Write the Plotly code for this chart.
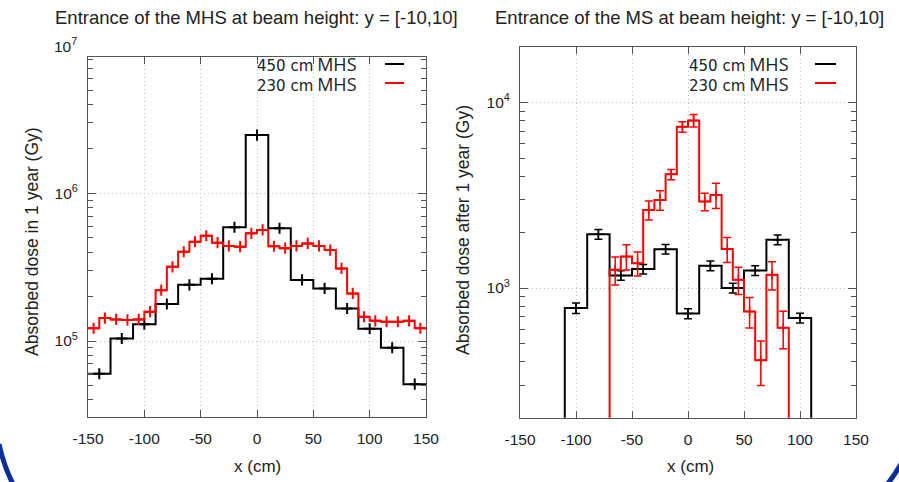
import math
import plotly.graph_objects as go

# ---------------- data ----------------
# Left panel: entrance of the MHS
mhs450_x = [-140, -120, -100, -80, -60, -40, -20, 0, 20, 40, 60, 80, 100, 120, 140]
mhs450_y = [6.0e4, 1.04e5, 1.30e5, 1.78e5, 2.40e5, 2.64e5, 5.89e5, 2.48e6,
            5.80e5, 2.59e5, 2.27e5, 1.66e5, 1.21e5, 9.0e4, 5.1e4]
mhs450_w = 20

mhs230_x = [-145, -135, -125, -115, -105, -95, -85, -75, -65, -55, -45, -35, -25, -15, -5,
            5, 15, 25, 35, 45, 55, 65, 75, 85, 95, 105, 115, 125, 135, 145]
mhs230_y = [1.22e5, 1.43e5, 1.40e5, 1.39e5, 1.40e5, 1.58e5, 2.21e5, 3.18e5, 4.02e5, 4.70e5,
            5.16e5, 4.63e5, 4.40e5, 4.35e5, 5.36e5, 5.65e5, 4.38e5, 4.25e5, 4.40e5, 4.58e5,
            4.40e5, 4.13e5, 3.10e5, 2.10e5, 1.46e5, 1.37e5, 1.35e5, 1.35e5, 1.37e5, 1.22e5]
mhs230_w = 10

# Right panel: entrance of the MS
ms450_x = [-100, -80, -60, -40, -20, 0, 20, 40, 60, 80, 100]
ms450_y = [780, 1950, 1170, 1265, 1620, 728, 1318, 1000, 1244, 1820, 690]
ms450_err = [50, 120, 70, 75, 95, 45, 80, 60, 75, 110, 42]
ms450_w = 20

ms230_x = [-65, -55, -45, -35, -25, -15, -5, 5, 15, 25, 35, 45, 55, 65, 75, 85]
ms230_y = [1254, 1479, 1362, 2636, 2985, 4100, 7400, 8000, 2927, 3177, 1622, 1108, 748, 408, 1180, 610]
ms230_err = [215, 230, 200, 310, 360, 260, 480, 620, 320, 490, 250, 185, 140, 110, 205, 140]
ms230_w = 10

x_ticks = [-150, -100, -50, 0, 50, 100, 150]
x_tick_labels = ["-150", "-100", "-50", "0", "50", "100", "150"]
left_major = [1e5, 1e6]
right_major = [1e3, 1e4]
right_floor = 1.0  # step drops to the floor at the edges

titles = ["Entrance of the MHS at beam height: y = [-10,10]",
          "Entrance of the MS at beam height: y = [-10,10]"]
ylabels = ["Absorbed dose in 1 year (Gy)", "Absorbed dose after 1 year (Gy)"]
legend_names = ["450 cm", "230 cm"]
legend_suffix = "MHS"

BLACK = "#000000"
RED = "#ff0000"
W, H = 899, 482


def steps(centers, vals, width, floor=None):
    xs = [c - width / 2 for c in centers] + [centers[-1] + width / 2]
    ys = list(vals) + [vals[-1]]
    if floor is not None:
        xs = [xs[0]] + xs + [xs[-1]]
        ys = [floor] + ys + [floor]
    return xs, ys


def px(x):
    return x / W


def py(y):
    return 1 - y / H


fig = go.Figure()

# left panel
for cx, cy, w, col in [(mhs450_x, mhs450_y, mhs450_w, BLACK), (mhs230_x, mhs230_y, mhs230_w, RED)]:
    sx, sy = steps(cx, cy, w)
    fig.add_trace(go.Scatter(x=sx, y=sy, mode="lines", line=dict(color=col, width=2, shape="hv"),
                             xaxis="x", yaxis="y", showlegend=False, hoverinfo="skip"))
    fig.add_trace(go.Scatter(x=cx, y=cy, mode="markers",
                             marker=dict(symbol="cross-thin", size=8, color=col,
                                         line=dict(color=col, width=2)),
                             xaxis="x", yaxis="y", showlegend=False))

# right panel
for cx, cy, ce, w, col in [(ms450_x, ms450_y, ms450_err, ms450_w, BLACK),
                           (ms230_x, ms230_y, ms230_err, ms230_w, RED)]:
    sx, sy = steps(cx, cy, w, floor=right_floor)
    fig.add_trace(go.Scatter(x=sx, y=sy, mode="lines", line=dict(color=col, width=2, shape="hv"),
                             xaxis="x2", yaxis="y2", showlegend=False, hoverinfo="skip"))
    fig.add_trace(go.Scatter(x=cx, y=cy, mode="markers",
                             marker=dict(symbol="cross-thin", size=7, color=col,
                                         line=dict(color=col, width=1.5)),
                             error_y=dict(type="data", array=ce, color=col, thickness=1.5, width=4),
                             xaxis="x2", yaxis="y2", showlegend=False))

tickfont = dict(family="Liberation Sans", size=15.5, color="#222222")
FRAME = "#555555"
GRID = "#bdbdbd"
GRIDDASH = "1px,3px"

xcommon = dict(range=[-150, 150], tickvals=x_ticks, ticktext=x_tick_labels,
               ticks="inside", ticklen=7, tickcolor=FRAME,
               showline=True, linecolor=FRAME, linewidth=1, mirror="allticks",
               showgrid=True, gridcolor=GRID, griddash=GRIDDASH, gridwidth=1,
               zeroline=False, tickfont=tickfont, ticklabelstandoff=8, automargin=False)


def minor_vals(lo_dec, hi_dec):
    return [m * 10 ** d for d in range(lo_dec, hi_dec + 1) for m in range(2, 10)]


def ycommon(rng, major, minor):
    return dict(type="log", range=rng, tickvals=major,
                ticktext=["10<sup>%d</sup>" % round(math.log10(v)) for v in major],
                ticks="inside", ticklen=8, tickcolor=FRAME,
                minor=dict(tickvals=minor, ticks="inside", ticklen=5, tickcolor=FRAME, showgrid=False),
                showline=True, linecolor=FRAME, linewidth=1, mirror="allticks",
                showgrid=True, gridcolor=GRID, griddash=GRIDDASH, gridwidth=1,
                zeroline=False, tickfont=tickfont, ticklabelstandoff=6, automargin=False)


fig.update_layout(
    width=W, height=H, margin=dict(l=0, r=0, t=0, b=0, autoexpand=False),
    paper_bgcolor="white", plot_bgcolor="white", showlegend=False,
    xaxis=dict(domain=[px(88), px(426)], anchor="y", **xcommon),
    yaxis=dict(domain=[py(416.7), py(57)], anchor="x",
               **ycommon([4.4875, 6.9228], left_major, minor_vals(4, 6))),
    xaxis2=dict(domain=[px(520), px(856)], anchor="y2", **xcommon),
    yaxis2=dict(domain=[py(417.7), py(46.7)], anchor="x2",
                **ycommon([2.301, 4.301], right_major, minor_vals(2, 4))),
)

ann = []
titlefont = dict(family="Liberation Sans", size=18.5, color="#222222")
labfont = dict(family="Liberation Sans", size=17.5, color="#222222")
xlabfont = dict(family="Liberation Sans", size=17, color="#222222")
for cxp, title, ylab, ylx, yly in [(256, titles[0], ylabels[0], 32, 242), (689, titles[1], ylabels[1], 463, 230)]:
    ann.append(dict(x=px(cxp), y=py(18), xref="paper", yref="paper", text=title, showarrow=False,
                    xanchor="center", yanchor="middle", font=titlefont))
    ann.append(dict(x=px(cxp + 1), y=py(466), xref="paper", yref="paper", text="x (cm)", showarrow=False,
                    xanchor="center", yanchor="middle", font=xlabfont))
    ann.append(dict(x=px(ylx), y=py(yly), xref="paper", yref="paper", text=ylab, showarrow=False,
                    textangle=-90, xanchor="center", yanchor="middle", font=labfont))
# the 10^7 label at the top-left corner of the left panel
ann.append(dict(x=px(79), y=py(45), xref="paper", yref="paper", text="10<sup>7</sup>", showarrow=False,
                xanchor="right", yanchor="middle", font=tickfont))

legfont = dict(family="Open Sans", size=15, color="#222222")
shapes = []
leg_text = "<br>".join("<span style='font-family:DejaVu Sans;font-size:15px'>%s</span> "
                       "<span style='font-size:18px'>%s</span>" % (n, legend_suffix)
                       for n in legend_names)
for txt_right, l0, l1 in [(359, 385, 404), (791, 815, 836)]:
    ann.append(dict(x=px(txt_right), y=py(73.5), xref="paper", yref="paper",
                    text=leg_text, showarrow=False, align="right",
                    xanchor="right", yanchor="middle", font=legfont))
    for i, col in enumerate([BLACK, RED]):
        yy = 64 + 19 * i
        shapes.append(dict(type="line", xref="paper", yref="paper", x0=px(l0), x1=px(l1),
                           y0=py(yy), y1=py(yy), line=dict(color=col, width=2)))

# decorative blue corner arcs of the slide frame
shapes.append(dict(type="path", xref="paper", yref="paper",
                   path="M %f,%f Q %f,%f %f,%f" % (px(-1), py(444), px(4), py(467), px(14), py(486)),
                   line=dict(color="#0b2e9a", width=5)))
shapes.append(dict(type="path", xref="paper", yref="paper",
                   path="M %f,%f Q %f,%f %f,%f" % (px(886), py(486), px(894), py(476), px(901), py(464)),
                   line=dict(color="#0b2e9a", width=5)))

fig.update_layout(annotations=ann, shapes=shapes)
fig.write_html("out.html", config={"displayModeBar": False},
               post_script="document.body.style.margin='0';document.body.style.overflow='hidden';")
